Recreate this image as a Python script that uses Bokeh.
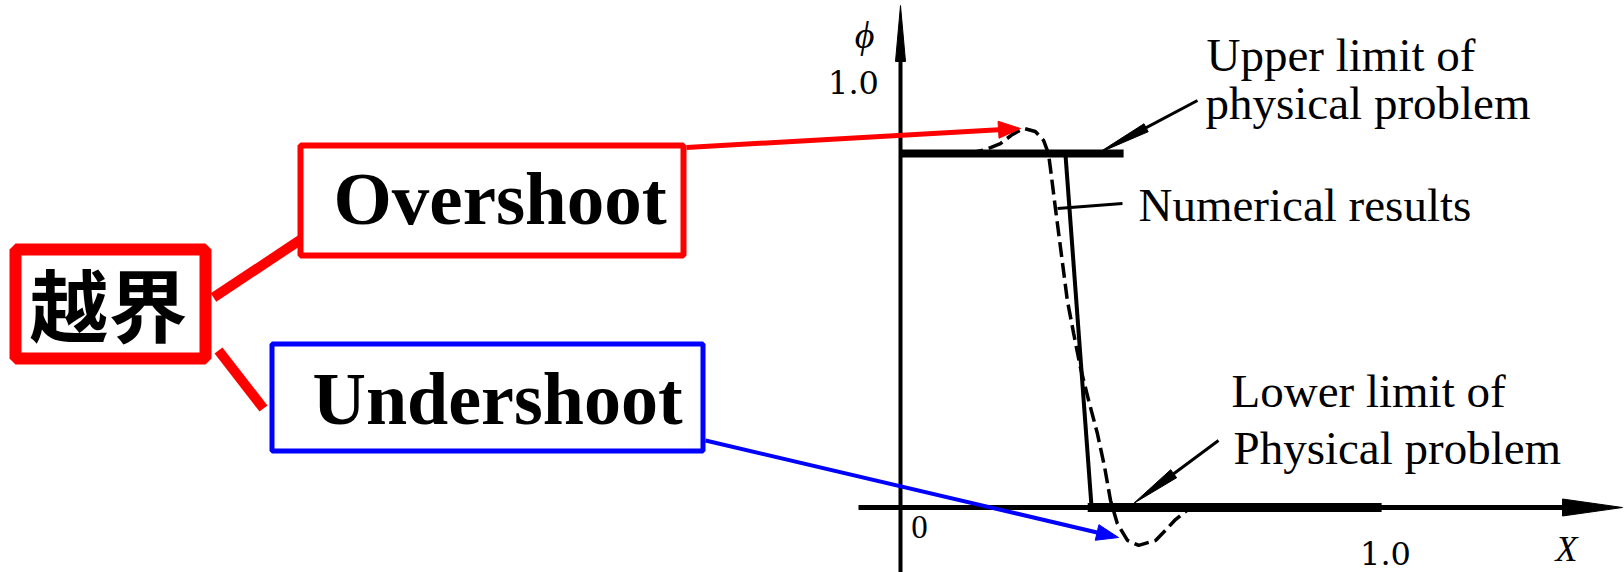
import math
from bokeh.plotting import figure
from bokeh.models import Range1d
from bokeh.embed import file_html
from bokeh.resources import INLINE
from bokeh.core.properties import value

# ---------------- data (X, phi) ----------------
upper_limit_x = [0.0, 0.46]
upper_limit_phi = [1.0, 1.0]
lower_limit_x = [0.386, 0.992]
lower_limit_phi = [0.0, 0.0]
exact_x = [0.340, 0.394]
exact_phi = [1.0, 0.0]
numerical_x = [0.14, 0.175, 0.206, 0.231, 0.254, 0.278, 0.295, 0.305, 0.309,
               0.320, 0.332, 0.344, 0.357, 0.371, 0.388, 0.406, 0.421, 0.433,
               0.447, 0.468, 0.491, 0.526, 0.546, 0.567, 0.598]
numerical_phi = [1.0, 1.011, 1.028, 1.054, 1.071, 1.062, 1.037, 1.0, 0.960,
                 0.839, 0.712, 0.585, 0.492, 0.395, 0.302, 0.209, 0.113, 0.020,
                 -0.045, -0.093, -0.107, -0.093, -0.065, -0.034, 0.0]
x_tick_labels = ["0", "1.0"]
y_tick_labels = ["1.0"]
axis_names = ["ϕ", "X"]
box_labels = ["越界", "Overshoot", "Undershoot"]
note_lines = ["Upper limit of", "physical problem", "Numerical results",
              "Lower limit of", "Physical problem"]

# ---------------- layout (page pixels) ----------------
W, H = 1624, 572
OX, OY = 0, 0
X0, SX = 900.0, 485.0     # page x of X=0, px per unit X
Y0, SY = 507.0, 354.0     # page y of phi=0, px per unit phi


def X(px):
    return (px - X0) / SX


def Y(py):
    return (Y0 - py) / SY


p = figure(width=W, height=H, output_backend="svg", toolbar_location=None,
           x_range=Range1d(X(OX), X(OX + W)), y_range=Range1d(Y(OY + H), Y(OY)),
           x_axis_type=None, y_axis_type=None, min_border=0)
p.grid.visible = False
p.outline_line_color = None
p.background_fill_color = "white"
p.border_fill_color = "white"

SERIF = value("Liberation Serif")


def seg(a, b, color, width):
    p.line([X(a[0]), X(b[0])], [Y(a[1]), Y(b[1])], line_color=color,
           line_width=width, line_cap="butt")


def arrow(tail, tip, color, width, hl, hw):
    fx, fy = tail
    tx, ty = tip
    d = math.hypot(tx - fx, ty - fy)
    ux, uy = (tx - fx) / d, (ty - fy) / d
    bx, by = tx - ux * hl * 0.8, ty - uy * hl * 0.8
    seg(tail, (bx, by), color, width)
    hx, hy = tx - ux * hl, ty - uy * hl
    nx, ny = -uy, ux
    pts = [(tx, ty), (hx + nx * hw / 2, hy + ny * hw / 2),
           (hx - nx * hw / 2, hy - ny * hw / 2)]
    p.patch([X(a) for a, _ in pts], [Y(b) for _, b in pts],
            fill_color=color, line_color=color, line_width=1)


def box(l, t, r, b, color, bw):
    h = bw / 2
    p.quad(left=X(l + h), right=X(r - h), top=Y(t + h), bottom=Y(b - h),
           fill_color="white", line_color=color, line_width=bw)


def label(x, y, txt, size, font=SERIF, style="normal", align="left"):
    p.text(x=[X(x)], y=[Y(y)], text=[txt], text_font=font,
           text_font_style=style, text_font_size=f"{size}px",
           text_align=align, text_baseline="middle", text_color="black")


# ---------------- left annotation boxes ----------------
RED, BLUE = "#ff0000", "#0000ff"
seg((213, 297), (302, 238), RED, 10)
seg((218, 350), (263, 408), RED, 10)
box(9, 243, 211, 364, RED, 12)
box(297, 142, 686, 258, RED, 6)
box(269, 341, 705, 453, BLUE, 5)

label(108, 302, box_labels[0], 79, font=value("Noto Sans CJK SC"),
      style="bold", align="center")
label(333, 198, box_labels[1], 75, style="bold")
label(312, 398, box_labels[2], 74, style="bold")

# ---------------- axes ----------------
arrow((900, 572), (900, 5), "black", 4, 56, 10)
arrow((858, 507), (1622, 507), "black", 5, 60, 17)

label(864, 34, axis_names[0], 38, style="italic", align="center")
label(1566, 548, axis_names[1], 36, style="italic", align="center")
label(853, 82, y_tick_labels[0], 32, font=value("DejaVu Serif"), align="center")
label(919, 526, x_tick_labels[0], 33, align="center")
label(1385, 553, x_tick_labels[1], 32, font=value("DejaVu Serif"), align="center")

# ---------------- curves ----------------
p.line(upper_limit_x, upper_limit_phi, line_color="black", line_width=8)
p.line(lower_limit_x, lower_limit_phi, line_color="black", line_width=9)
p.line(exact_x, exact_phi, line_color="black", line_width=4)
p.line(numerical_x, numerical_phi, line_color="black", line_width=3.5,
       line_dash="15 6")

# ---------------- right-hand notes ----------------
arrow((1197, 100), (1097, 153), "black", 3, 55, 9)
arrow((1218, 440), (1133, 503), "black", 3, 50, 10)
seg((1057, 208), (1122, 203), "black", 3)

note_pos = [(1206, 54), (1205, 102), (1138, 204), (1231, 390), (1233, 447)]
for (nx_, ny_), txt in zip(note_pos, note_lines):
    label(nx_, ny_, txt, 47)

# ---------------- coloured pointers ----------------
arrow((686, 147), (1020, 128), RED, 5, 22, 17)
arrow((705, 440), (1118, 537), BLUE, 4, 22, 16)

open("out.html", "w").write(file_html(p, INLINE))
